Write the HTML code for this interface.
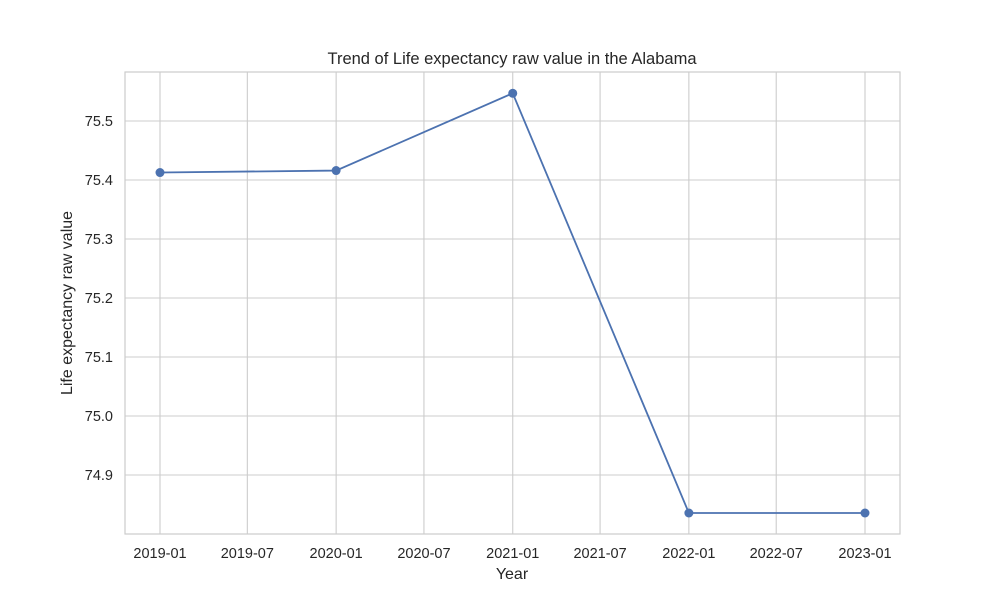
<!DOCTYPE html>
<html><head><meta charset="utf-8"><style>
body{margin:0;background:#fff;font-family:"Liberation Sans",sans-serif}
svg text{font-family:"Liberation Sans",sans-serif;fill:#262626}
</style></head><body>
<svg id="chart" width="1000" height="600">
<text x="512" y="64" text-anchor="middle" font-size="16.5">Trend of Life expectancy raw value in the Alabama</text>
<g id="grid"></g>
<rect x="125" y="72" width="775" height="462" fill="none" stroke="#ccc" stroke-width="1.2"/>
<g id="marks"></g>
<text x="512" y="579" text-anchor="middle" font-size="16">Year</text>
<text transform="translate(72,303) rotate(-90)" text-anchor="middle" font-size="16">Life expectancy raw value</text>
</svg>
<script>
const dates=["2019-01-01","2020-01-01","2021-01-01","2022-01-01","2023-01-01"];
const values=[75.4127,75.416,75.547,74.8356,74.8356];
const xTicks=["2019-01","2019-07","2020-01","2020-07","2021-01","2021-07","2022-01","2022-07","2023-01"];
const yTicks=[74.9,75.0,75.1,75.2,75.3,75.4,75.5];
const NS="http://www.w3.org/2000/svg";
const t0=Date.parse("2019-01-01"),t1=Date.parse("2023-01-01");
function xs(d){return 160+(Date.parse(d)-t0)/(t1-t0)*705;}
function ys(v){return 416-(v-75.0)*590;}
function mk(tag,attrs,parent){const e=document.createElementNS(NS,tag);for(const k in attrs)e.setAttribute(k,attrs[k]);parent.appendChild(e);return e;}
const g=document.getElementById('grid'),m=document.getElementById('marks');
xTicks.forEach(t=>{const x=xs(t+"-01");
const l=mk('line',{x1:x,x2:x,y1:72,y2:534,stroke:'#ccc','stroke-width':1.1},g);


const tx=mk('text',{x:x,y:558,'text-anchor':'middle','font-size':14.5},g);tx.textContent=t;

});
yTicks.forEach(v=>{const y=ys(v);
const l=mk('line',{x1:125,x2:900,y1:y,y2:y,stroke:'#ccc','stroke-width':1.1},g);


const tx=mk('text',{x:113,y:y+5,'text-anchor':'end','font-size':14.5},g);tx.textContent=v.toFixed(1);

});
const pts=dates.map((d,i)=>xs(d)+","+ys(values[i])).join(" ");
const pl=mk('polyline',{points:pts,fill:'none',stroke:'#4c72b0','stroke-width':1.8},m);


dates.forEach((d,i)=>{const c=mk('circle',{cx:xs(d),cy:ys(values[i]),r:4.5,fill:'#4c72b0'},m);

});
</script>
</body></html>
